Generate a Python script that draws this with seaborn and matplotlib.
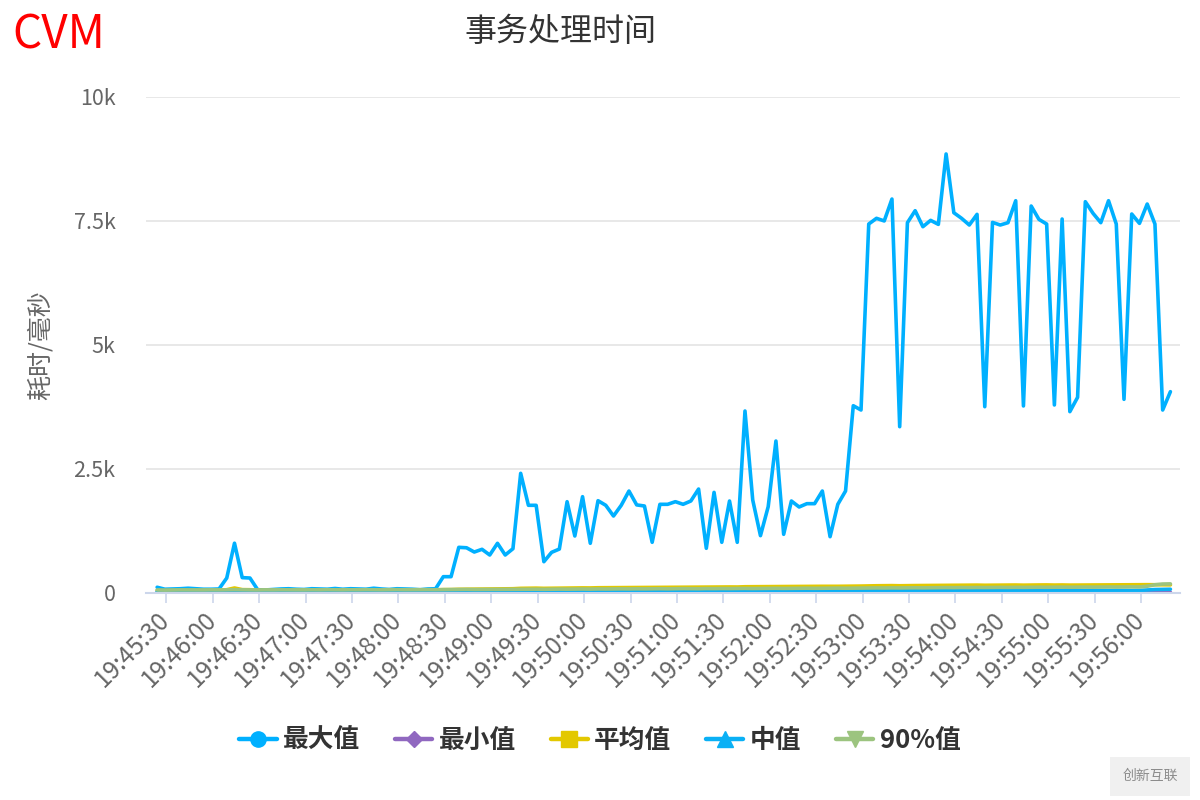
import matplotlib
matplotlib.use("Agg")
import matplotlib.pyplot as plt
from matplotlib.lines import Line2D
import seaborn as sns
import pandas as pd

# ---------------- data ----------------
series_names = ["最大值", "最小值", "平均值", "中值", "90%值"]
series_colors = ["#00b0ff", "#9068c0", "#e3c800", "#0ab0f5", "#9cc47f"]
legend_markers = ["o", "D", "s", "^", "v"]

start_time = "19:45:24"   # first sample
step_seconds = 5          # sampling interval

max_vals = [
    110, 70, 75, 80, 90, 80, 70, 70, 75, 296, 998, 304,
    296, 60, 55, 65, 75, 80, 70, 65, 80, 75, 70, 85,
    70, 80, 75, 70, 90, 75, 65, 80, 75, 70, 60, 75,
    80, 323, 323, 915, 906, 820, 875, 760, 996, 760, 887, 2407,
    1762, 1762, 625, 814, 880, 1835, 1143, 1936, 996, 1855, 1762, 1546,
    1762, 2050, 1770, 1748, 1016, 1782, 1782, 1835, 1782, 1849, 2090, 895,
    2023, 1016, 1849, 1016, 3663, 1869, 1150, 1734, 3058, 1177, 1849, 1728,
    1795, 1795, 2050, 1129, 1782, 2050, 3770, 3683, 7433, 7548, 7495, 7937,
    3347, 7460, 7702, 7379, 7507, 7426, 8845, 7661, 7548, 7413, 7628, 3750,
    7466, 7413, 7460, 7903, 3765, 7796, 7527, 7433, 3785, 7534, 3650, 3939,
    7883, 7648, 7460, 7903, 7433, 3899, 7635, 7446, 7836, 7433, 3683, 4053,
]

min_vals = [
    6, 5, 7, 6, 5, 6, 8, 6, 5, 7, 6, 5,
    6, 7, 5, 6, 6, 5, 7, 6, 5, 6, 7, 6,
    5, 6, 6, 7, 5, 6, 6, 5, 7, 6, 5, 6,
    6, 7, 6, 8, 7, 6, 7, 8, 6, 7, 8, 7,
    6, 7, 8, 7, 6, 8, 7, 6, 7, 8, 7, 6,
    8, 7, 7, 8, 6, 7, 8, 7, 9, 8, 7, 8,
    9, 8, 7, 8, 9, 8, 7, 9, 8, 8, 9, 7,
    8, 9, 8, 7, 9, 8, 9, 8, 9, 10, 8, 9,
    10, 9, 8, 9, 10, 9, 8, 10, 9, 8, 9, 10,
    9, 8, 10, 9, 9, 10, 8, 9, 10, 9, 8, 10,
    9, 10, 9, 8, 10, 9, 10, 9, 10, 9, 10, 9,
]

avg_vals = [
    45, 42, 44, 46, 45, 44, 45, 46, 47, 60, 95, 62,
    60, 47, 46, 47, 48, 47, 48, 49, 48, 50, 49, 51,
    50, 52, 51, 52, 53, 52, 54, 53, 55, 54, 56, 55,
    56, 62, 63, 68, 70, 72, 73, 74, 76, 78, 80, 88,
    90, 92, 88, 90, 92, 94, 95, 97, 96, 100, 101, 102,
    104, 106, 107, 105, 107, 109, 110, 112, 113, 114, 115, 113,
    115, 114, 116, 115, 120, 121, 120, 122, 125, 124, 125, 126,
    127, 128, 129, 128, 129, 130, 132, 134, 138, 140, 141, 143,
    140, 143, 144, 145, 146, 147, 149, 150, 151, 152, 153, 150,
    152, 153, 154, 155, 152, 155, 156, 157, 154, 156, 153, 154,
    157, 158, 159, 160, 161, 158, 160, 161, 162, 160, 156, 158,
]

median_vals = [
    20, 18, 19, 20, 21, 19, 20, 22, 20, 21, 23, 21,
    20, 19, 20, 21, 20, 19, 21, 20, 22, 21, 20, 21,
    22, 21, 20, 22, 21, 23, 22, 21, 22, 23, 22, 21,
    22, 24, 25, 26, 25, 27, 26, 27, 28, 27, 28, 30,
    29, 28, 27, 29, 30, 29, 30, 31, 30, 31, 32, 31,
    32, 31, 33, 32, 33, 34, 33, 34, 35, 34, 33, 35,
    34, 35, 34, 36, 37, 35, 36, 37, 38, 36, 37, 38,
    37, 38, 39, 38, 37, 39, 40, 41, 42, 43, 42, 43,
    41, 43, 42, 43, 44, 43, 45, 44, 43, 44, 45, 42,
    44, 45, 44, 45, 43, 45, 44, 46, 43, 45, 42, 43,
    45, 46, 45, 44, 46, 45, 44, 46, 55, 64, 68, 70,
]

p90_vals = [
    55, 52, 54, 56, 55, 53, 55, 57, 56, 58, 60, 58,
    56, 55, 57, 56, 58, 57, 55, 56, 58, 57, 59, 58,
    57, 59, 58, 60, 59, 58, 60, 61, 59, 60, 62, 61,
    60, 62, 64, 65, 66, 64, 65, 67, 66, 68, 70, 72,
    71, 70, 68, 70, 72, 71, 73, 74, 72, 75, 74, 76,
    77, 76, 78, 77, 79, 80, 78, 80, 82, 81, 80, 83,
    82, 84, 83, 85, 86, 84, 86, 87, 88, 86, 88, 89,
    90, 88, 90, 91, 92, 90, 92, 94, 95, 96, 95, 97,
    96, 98, 99, 98, 100, 101, 103, 102, 104, 103, 105, 104,
    106, 107, 106, 108, 107, 109, 110, 109, 111, 112, 110, 112,
    113, 112, 114, 115, 114, 116, 117, 116, 130, 160, 175, 178,
]

tick_labels = [
    "19:45:30", "19:46:00", "19:46:30", "19:47:00", "19:47:30", "19:48:00",
    "19:48:30", "19:49:00", "19:49:30", "19:50:00", "19:50:30", "19:51:00",
    "19:51:30", "19:52:00", "19:52:30", "19:53:00", "19:53:30", "19:54:00",
    "19:54:30", "19:55:00", "19:55:30", "19:56:00",
]
y_ticks = [0, 2500, 5000, 7500, 10000]
y_tick_labels = ["0", "2.5k", "5k", "7.5k", "10k"]

title_text = "事务处理时间"
corner_text = "CVM"
y_label = "耗时/毫秒"


def to_sec(hms):
    h, m, s = (int(p) for p in hms.split(":"))
    return h * 3600 + m * 60 + s


base = to_sec("19:45:00")
t0 = to_sec(start_time) - base
n = len(max_vals)
times = [t0 + step_seconds * i for i in range(n)]

all_vals = [max_vals, min_vals, avg_vals, median_vals, p90_vals]
frames = []
for name, vals in zip(series_names, all_vals):
    frames.append(pd.DataFrame({"t": times, "value": vals, "series": name}))
df = pd.concat(frames, ignore_index=True)

tick_pos = [to_sec(lbl) - base for lbl in tick_labels]

# ---------------- style ----------------
sns.set_theme(style="white")
plt.rcParams["font.family"] = ["Noto Sans CJK SC", "DejaVu Sans"]

fig = plt.figure(figsize=(12, 8), dpi=100)
ax = fig.add_axes([146 / 1200, 1 - 592.7 / 800, (1180 - 146) / 1200, (592.7 - 96.7) / 800])

sns.lineplot(
    data=df, x="t", y="value", hue="series",
    hue_order=series_names, palette=dict(zip(series_names, series_colors)),
    linewidth=2.6, legend=False, ax=ax, estimator=None, sort=False,
)

ax.set_xlim(t0 - 7.2, times[-1] + 6.2)
ax.set_ylim(0, 10000)

ax.set_yticks(y_ticks)
ax.set_yticklabels(y_tick_labels)
ax.yaxis.grid(True, color="#e6e6e6", linewidth=1.3)
ax.xaxis.grid(False)
ax.set_axisbelow(True)

ax.set_xticks(tick_pos)
ax.set_xticklabels(tick_labels, rotation=45, ha="right", va="center",
                   rotation_mode="anchor")

for sp in ["top", "right", "left"]:
    ax.spines[sp].set_visible(False)
ax.spines["bottom"].set_color("#ccd6eb")
ax.spines["bottom"].set_linewidth(1.5)

ax.tick_params(axis="x", which="both", direction="out", length=7.5, width=1.2,
               color="#ccd6eb", labelsize=17.5, labelcolor="#666666", pad=9, bottom=True)
ax.tick_params(axis="y", length=0, labelsize=15.5, labelcolor="#666666", pad=22)

ax.set_xlabel("")
ax.set_ylabel(y_label, fontsize=18, color="#666666")
ax.yaxis.set_label_coords(-(146 - 54) / 1034, 0.5)

fig.text(560 / 1200, 1 - 32 / 800, title_text, ha="center", va="center",
         fontsize=23, color="#333333")
fig.text(12 / 1200, 1 - 35 / 800, corner_text, ha="left", va="center",
         fontsize=33, color="#ff0000")

handles = [
    Line2D([0], [0], color=c, lw=3.2, marker=m, markersize=11 if m != "D" else 8.5)
    for c, m in zip(series_colors, legend_markers)
]
fig.legend(handles, series_names, loc="center", bbox_to_anchor=(0.5, 1 - 740 / 800),
           ncol=5, frameon=False, prop={"size": 18.5, "weight": "bold"},
           labelcolor="#333333", handlelength=1.45, handletextpad=0.25,
           columnspacing=1.35)

# watermark
fig.text(1150 / 1200, 1 - 776 / 800, "创新互联", ha="center", va="center",
         fontsize=10, color="#8c8c8c",
         bbox=dict(boxstyle="square,pad=0.9", facecolor="#f0f0f0", edgecolor="none"))

fig.savefig("out.png", dpi=100)
